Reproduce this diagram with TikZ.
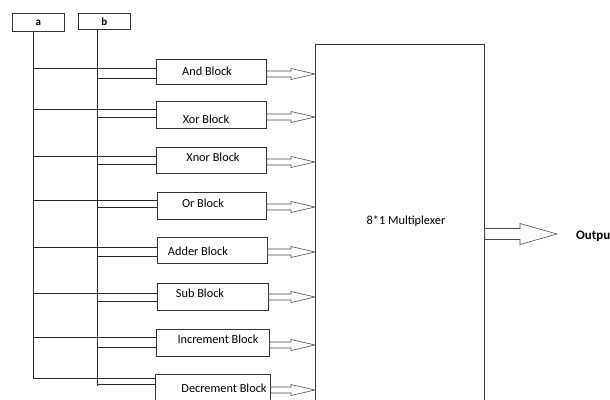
\documentclass[tikz,border=0pt]{standalone}
\usepackage{fontspec}
\setmainfont{Carlito}
\usetikzlibrary{calc}
\newcommand\harr[5]{%
  \draw[harrow] let \p1=(#1), \p2=(#2) in
    (\x1,{\y1+#3pt}) -- ({\x2-#5pt},{\y1+#3pt}) -- ({\x2-#5pt},{\y1+#4pt}) --
    (\x2,\y1) -- ({\x2-#5pt},{\y1-#4pt}) -- ({\x2-#5pt},{\y1-#3pt}) --
    (\x1,{\y1-#3pt}) -- cycle;}
\begin{document}
\begin{tikzpicture}[x=1pt,y=-1pt,
  wire/.style={draw=black!85, line width=0.8pt},
  box/.style={draw=black!80, line width=0.8pt, fill=white, inner sep=0pt, anchor=north west},
  lbl/.style={font=\fontsize{12.3}{14}\selectfont, inner sep=0pt},
  inp/.style={box, font=\fontsize{11}{13}\selectfont\bfseries},
  harrow/.style={draw=black!70, line width=0.6pt, fill=white}]
\useasboundingbox (0,0) rectangle (610,399);
\clip (0,0) rectangle (610,399);
% inputs
\node[inp, minimum width=52pt, minimum height=18pt] (a) at (12,13) {a};
\node[inp, minimum width=52pt, minimum height=16pt] (b) at (78,13) {b};
\coordinate (aL) at ($(a.south)+(-5,0)$);
\coordinate (bL) at ($(b.south)+(-7,0)$);
% blocks
\node[box, minimum width=110pt, minimum height=25pt] (andB) at (156,59) {};
\node[box, minimum width=110pt, minimum height=27pt] (xorB) at (156,101) {};
\node[box, minimum width=110pt, minimum height=26pt] (xnorB) at (156,147) {};
\node[box, minimum width=109pt, minimum height=27pt] (orB) at (157,192) {};
\node[box, minimum width=110pt, minimum height=26pt] (addB) at (157,237) {};
\node[box, minimum width=111pt, minimum height=27pt] (subB) at (157,283) {};
\node[box, minimum width=113pt, minimum height=27pt] (incB) at (156,329) {};
\node[box, minimum width=115pt, minimum height=45pt] (decB) at (155,374) {};
\node[box, minimum width=169pt, minimum height=380pt] (mux) at (315,44) {};
% texts
\node[lbl] (andT) at (207,71) {And Block};
\node[lbl] (xorT) at (206,119) {Xor Block};
\node[lbl] (xnorT) at (213,157) {Xnor Block};
\node[lbl] (orT) at (203,203) {Or Block};
\node[lbl] (addT) at (198,251) {Adder Block};
\node[lbl] (subT) at (200,293) {Sub Block};
\node[lbl] (incT) at (218,339) {Increment Block};
\node[lbl] (decT) at (224,388) {Decrement Block};
\node[lbl] (muxT) at (406,221) {8*1 Multiplexer};
% bus lines
\draw[wire] (aL) |- (decB.west |- 0,378);
\draw[wire] (bL) -- (bL |- 0,386);
\foreach \n/\ya/\yb in {andB/68/78, xorB/109/117, xnorB/156/164, orB/200/207,
                        addB/247/256, subB/293/301, incB/337/347}{
  \draw[wire] (aL |- 0,\ya) -- (\n.west |- 0,\ya);
  \draw[wire] (bL |- 0,\yb) -- (\n.west |- 0,\yb);
}
\draw[wire] (bL |- 0,384) -- (decB.west |- 0,384);
% arrows to mux
\foreach \n/\y in {andB/74, xorB/117, xnorB/162, orB/207, addB/252, subB/297, incB/345, decB/390}{
  \coordinate (s) at (\n.east |- 0,\y);
  \coordinate (e) at (mux.west |- 0,\y);
  \harr{s}{e}{3}{5.5}{24}
}
% output
\coordinate (outTip) at (557,234);
\coordinate (outS) at (mux.east |- outTip);
\harr{outS}{outTip}{5.5}{10.5}{37}
\node[lbl, anchor=west, font=\fontsize{13}{15}\selectfont\bfseries] (out) at (576,236) {Output};
\end{tikzpicture}
\end{document}
